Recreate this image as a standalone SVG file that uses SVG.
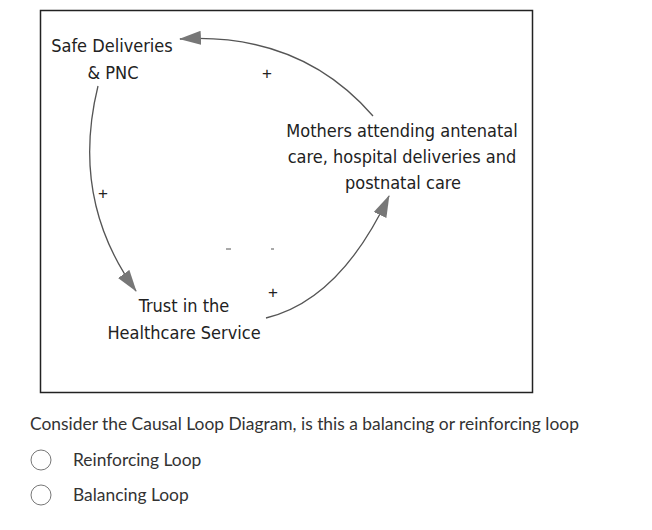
<svg xmlns="http://www.w3.org/2000/svg" width="652" height="530" viewBox="0 0 652 530">
<style>
.n{font-family:"DejaVu Sans Condensed","Liberation Sans",sans-serif;font-size:18px;fill:#222}
.p{font-family:"Liberation Sans",sans-serif;font-size:17px;fill:#222}
.c{fill:none;stroke:#555;stroke-width:1.3}
.q{font-family:Lato,"Liberation Sans",sans-serif;font-size:17.4px;fill:#333}
</style>
<defs><marker id="b" markerWidth="22" markerHeight="14" refX="21" refY="7" orient="auto" markerUnits="userSpaceOnUse"><path d="M0,0 L22,7 L0,14 Z" fill="#777"/></marker></defs>
<rect x="0" y="0" width="652" height="530" fill="#fff"/>
<rect x="40.5" y="10.5" width="492" height="382" fill="#fff" stroke="#222" stroke-width="1.5"/>
<g id="connectors">
<path class="c" d="M373,116 Q300,32 180,39" marker-end="url(#b)"/>
<path class="c" d="M98,86 Q70,200 136,291" marker-end="url(#b)"/>
<path class="c" d="M266,318 Q340,300 389,196" marker-end="url(#b)"/>
<text class="p" x="267" y="79" text-anchor="middle">+</text>
<text class="p" x="103" y="199" text-anchor="middle">+</text>
<text class="p" x="273" y="298" text-anchor="middle">+</text>
<line x1="226" y1="249" x2="231" y2="249" stroke="#555"/>
<line x1="271" y1="249" x2="274" y2="249" stroke="#555"/>
</g>
<g id="safe"><text class="n" x="112" y="52" text-anchor="middle">Safe Deliveries</text><text class="n" x="113" y="79" text-anchor="middle">&amp; PNC</text></g>
<g id="mothers"><text class="n" x="402" y="137" text-anchor="middle">Mothers attending antenatal</text><text class="n" x="402" y="163" text-anchor="middle">care, hospital deliveries and</text><text class="n" x="403" y="189" text-anchor="middle">postnatal care</text></g>
<g id="trust"><text class="n" x="184" y="312" text-anchor="middle">Trust in the</text><text class="n" x="184" y="339" text-anchor="middle">Healthcare Service</text></g>
<text class="q" x="30" y="430">Consider the Causal Loop Diagram, is this a balancing or reinforcing loop</text>
<circle cx="41" cy="460" r="10" fill="#fff" stroke="#777"/>
<text class="q" x="73" y="466">Reinforcing Loop</text>
<circle cx="41" cy="495" r="10" fill="#fff" stroke="#777"/>
<text class="q" x="73" y="501">Balancing Loop</text>
</svg>
